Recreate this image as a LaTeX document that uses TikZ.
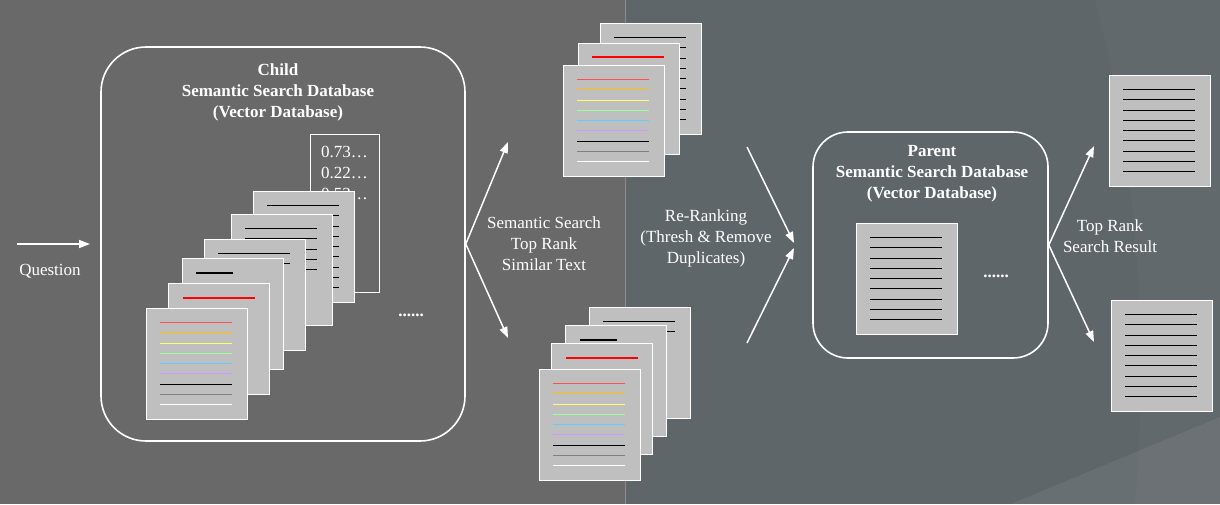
\documentclass[tikz,border=0pt]{standalone}
\usepackage{fontspec}
\setmainfont{Liberation Serif}
\usetikzlibrary{arrows.meta,calc}
\definecolor{bgL}{HTML}{696969}
\definecolor{bgR}{HTML}{5F666A}
\definecolor{sepline}{HTML}{8C8C8C}
\definecolor{docgray}{HTML}{BFBFBF}
\definecolor{lred}{HTML}{FF5050}
\definecolor{lorange}{HTML}{FFC000}
\definecolor{lyellow}{HTML}{FFFF66}
\definecolor{lgreen}{HTML}{99FF99}
\definecolor{lblue}{HTML}{66CCFF}
\definecolor{lpurple}{HTML}{CC99FF}
\definecolor{lgray}{HTML}{808080}
\newcommand{\docpage}[4]{%
  \node[docbox] (#1) at (#2,#3) {};
  \foreach \lc [count=\li from 0] in {#4} {
    \pgfmathsetmacro{\ly}{round(14+10.25*\li)+0.5}
    \draw[docline, draw=\lc] ($(#1.north west)+(14,\ly)$) -- ++(72,0);
  }%
}
\tikzset{
  docbox/.style={rectangle, draw=white, line width=1.2pt, fill=docgray,
    minimum width=101pt, minimum height=111pt, anchor=north west, inner sep=0pt},
  docline/.style={line width=1.5pt},
  thickline/.style={line width=2.6pt},
  dbbox/.style={draw=white, line width=1.6pt, inner sep=0pt},
  txt/.style={text=white, font=\fontsize{17}{21}\selectfont, align=center, inner sep=0pt},
  ttl/.style={txt, font=\fontsize{17}{21}\selectfont\bfseries},
  arr/.style={draw=white, line width=1.5pt, -{Triangle[length=11pt,width=8pt]}}
}
\begin{document}
\begin{tikzpicture}[x=1pt,y=-1pt]
\useasboundingbox (0,0) rectangle (1220,504);
% background
\fill[bgL] (0,0) rectangle (625,504);
\fill[bgR] (625,0) rectangle (1220,504);
\fill[white, opacity=0.025] (1095,0) .. controls (1135,150) and (1150,330) .. (1135,504) -- (1220,504) -- (1220,0) -- cycle;
\fill[white, opacity=0.06] (1011,504) -- (1220,417) -- (1220,504) -- cycle;
\draw[sepline, line width=1pt] (625,0) -- (625,504);

% question
\coordinate (q0) at (17,244);
\coordinate (q1) at (90,244);
\draw[arr] (q0) -- (q1);
\node[txt] (qlabel) at (50,271) {Question};

% child database
\node[dbbox, minimum width=364pt, minimum height=394pt, rounded corners=45pt] (child) at (283,244) {};
\node[ttl] (childtitle) at (278,92) {Child\\Semantic Search Database\\(Vector Database)};
\node[draw=white, line width=1.2pt, minimum width=69pt, minimum height=158pt, anchor=north west, inner sep=0pt] (vec) at (310,134) {};
\node[txt, anchor=west] (v1) at (321,152) {0.73…};
\node[txt, anchor=west] (v2) at (321,173) {0.22…};
\node[txt, anchor=west] (v3) at (321,194) {0.53…};
\docpage{c6}{253}{191}{black,black,black,black,black,black,black,black,black}
\docpage{c5}{231}{214}{black,black,black,black,black}
\docpage{c4}{204}{239}{black,black}
\node[docbox] (c3) at (182,258) {};
\draw[thickline, black] ($(c3.north west)+(14,15)$) -- ++(37,0);
\node[docbox] (c2) at (168,283) {};
\draw[thickline, red] ($(c2.north west)+(15,15)$) -- ++(72,0);
\docpage{c1}{146}{308}{lred,lorange,lyellow,lgreen,lblue,lpurple,black,lgray,white}
\node[txt, font=\fontsize{17}{21}\selectfont\bfseries] (cdots) at (411,315) {......};

% fork from child
\coordinate (f1) at (508,142);
\coordinate (f2) at (508,338);
\draw[arr] (child.east) -- (f1);
\draw[arr] (child.east) -- (f2);
\node[txt] (sslabel) at (544,244) {Semantic Search\\Top Rank\\Similar Text};

% top stack
\docpage{t3}{600}{23}{black,black,black,black,black,black,black,black,black}
\node[docbox] (t2) at (578,43) {};
\draw[thickline, red] ($(t2.north west)+(14,14)$) -- ++(72,0);
\docpage{t1}{563}{65}{lred,lorange,lyellow,lgreen,lblue,lpurple,black,lgray,white}

% bottom stack
\docpage{b4}{589}{307}{black,black}
\node[docbox] (b3) at (565,325) {};
\draw[thickline, black] ($(b3.north west)+(15,15)$) -- ++(37,0);
\node[docbox] (b2) at (551,343) {};
\draw[thickline, red] ($(b2.north west)+(15,15)$) -- ++(72,0);
\docpage{b1}{539}{369}{lred,lorange,lyellow,lgreen,lblue,lpurple,black,lgray,white}

% re-ranking
\node[txt] (rrlabel) at (706,238) {Re-Ranking\\(Thresh \& Remove\\Duplicates)};
\coordinate (c1s) at (747,147);
\coordinate (c1e) at (794,243);
\coordinate (c2s) at (747,343);
\coordinate (c2e) at (794,248);
\draw[arr] (c1s) -- (c1e);
\draw[arr] (c2s) -- (c2e);

% parent database
\node[dbbox, minimum width=235pt, minimum height=226pt, rounded corners=35pt] (parent) at (930.5,245) {};
\node[ttl] (parenttitle) at (932,174) {Parent\\Semantic Search Database\\(Vector Database)};
\docpage{pd}{856}{223}{black,black,black,black,black,black,black,black,black}
\node[txt, font=\fontsize{17}{21}\selectfont\bfseries] (pdots) at (996,276) {......};

% fork from parent
\coordinate (p1) at (1094,146);
\coordinate (p2) at (1094,342);
\draw[arr] (parent.east) -- (p1);
\draw[arr] (parent.east) -- (p2);
\node[txt] (trlabel) at (1110,236) {Top Rank\\Search Result};

% results
\docpage{r1}{1109}{75}{black,black,black,black,black,black,black,black,black}
\docpage{r2}{1111}{300}{black,black,black,black,black,black,black,black,black}
\end{tikzpicture}
\end{document}
